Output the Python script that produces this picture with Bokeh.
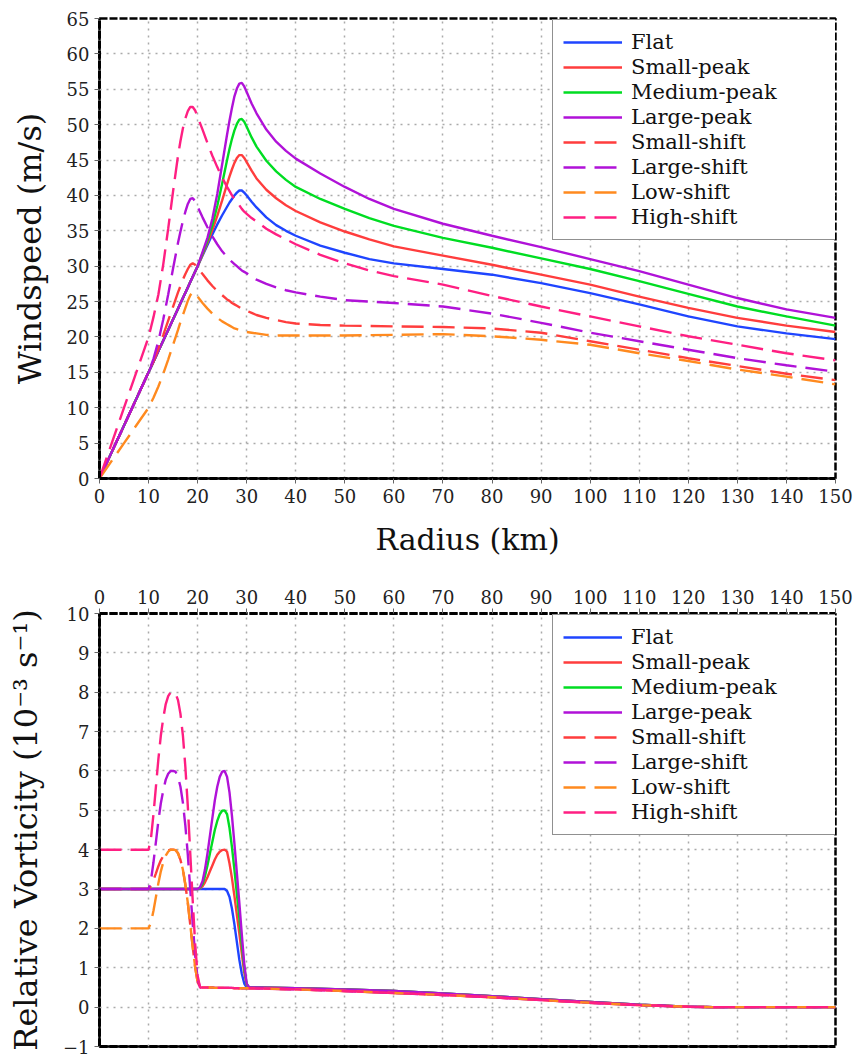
from bokeh.plotting import figure
from bokeh.models import Legend, LegendItem, FixedTicker, LinearAxis, Range1d, ColumnDataSource
from bokeh.layouts import column
from bokeh.embed import file_html
from bokeh.resources import INLINE

# ---------------- data ----------------
names = ["Flat", "Small-peak", "Medium-peak", "Large-peak",
         "Small-shift", "Large-shift", "Low-shift", "High-shift"]
colors = ["#1f45ff", "#ff3d3d", "#00dd22", "#b012d8",
          "#ff3d3d", "#b012d8", "#ff8a1f", "#ff1f82"]
dashes = ["solid", "solid", "solid", "solid", "22 9", "22 9", "22 9", "22 9"]

x_ticks = [0, 10, 20, 30, 40, 50, 60, 70, 80, 90, 100, 110, 120, 130, 140, 150]
ws_ticks = [0, 5, 10, 15, 20, 25, 30, 35, 40, 45, 50, 55, 60, 65]
vo_ticks = [-1, 0, 1, 2, 3, 4, 5, 6, 7, 8, 9, 10]

# windspeed (m/s) vs radius (km)
radius_ws = [0, 5, 10, 11, 12, 13, 14, 15, 16, 16.5, 17, 17.5, 18, 18.5, 19, 19.5, 20,
             21, 22, 23, 24, 25, 26, 26.5, 27, 27.5, 28, 28.5, 29, 29.5, 30,
             31, 32, 34, 36, 38, 40, 45, 50, 55, 60, 70, 80, 90, 100, 110, 120, 130, 140, 150]
ws_flat = [0, 7.5, 15, 16.5, 18, 19.5, 21, 22.5, 24, 24.75, 25.5, 26.25, 27, 27.75, 28.5, 29.25, 30,
           31.5, 33, 34.5, 35.9, 37.2, 38.4, 39.0, 39.5, 40.0, 40.4, 40.7, 40.7, 40.4, 40.0,
           39.1, 38.3, 36.9, 35.8, 35.0, 34.3, 32.9, 31.9, 31.0, 30.4, 29.6, 28.8, 27.6, 26.2,
           24.6, 22.9, 21.5, 20.5, 19.7]
ws_small_peak = [0, 7.5, 15, 16.5, 18, 19.5, 21, 22.5, 24, 24.75, 25.5, 26.25, 27, 27.75, 28.5, 29.25, 30,
                 31.6, 33.3, 35.1, 37.1, 39.3, 41.6, 42.7, 43.7, 44.6, 45.3, 45.7, 45.7, 45.3, 44.7,
                 43.5, 42.4, 40.8, 39.6, 38.6, 37.8, 36.2, 34.9, 33.8, 32.8, 31.5, 30.2, 28.8, 27.4,
                 25.7, 24.1, 22.7, 21.6, 20.7]
ws_medium_peak = [0, 7.5, 15, 16.5, 18, 19.5, 21, 22.5, 24, 24.75, 25.5, 26.25, 27, 27.75, 28.5, 29.25, 30,
                  31.8, 33.6, 35.8, 38.5, 41.7, 45.0, 46.6, 48.0, 49.2, 50.1, 50.7, 50.8, 50.4, 49.7,
                  48.2, 46.9, 44.9, 43.4, 42.2, 41.2, 39.5, 38.1, 36.8, 35.7, 34.0, 32.6, 31.1, 29.6,
                  27.9, 26.1, 24.3, 22.9, 21.6]
ws_large_peak = [0, 7.5, 15, 16.5, 18, 19.5, 21, 22.5, 24, 24.75, 25.5, 26.25, 27, 27.75, 28.5, 29.25, 30,
                 32.0, 34.0, 36.7, 40.2, 44.4, 48.6, 50.6, 52.4, 54.0, 55.1, 55.8, 55.9, 55.4, 54.6,
                 53.0, 51.6, 49.3, 47.6, 46.3, 45.2, 43.1, 41.2, 39.5, 38.1, 36.0, 34.3, 32.7, 31.0,
                 29.3, 27.4, 25.5, 23.9, 22.7]
ws_small_shift = [0, 7.5, 15, 16.6, 18.4, 20.3, 22.3, 24.3, 26.3, 27.2, 28.1, 28.9, 29.6, 30.2, 30.4, 30.2, 29.7,
                  28.9, 28.0, 27.2, 26.5, 25.9, 25.3, 25.1, 24.8, 24.6, 24.4, 24.2, 24.0, 23.9, 23.7,
                  23.4, 23.1, 22.7, 22.4, 22.1, 21.9, 21.7, 21.6, 21.55, 21.5, 21.4, 21.2, 20.6, 19.4,
                  18.2, 17.0, 15.9, 14.8, 13.9]
ws_large_shift = [0, 7.5, 15, 16.9, 19.4, 22.5, 26.0, 29.7, 33.3, 34.9, 36.4, 37.7, 38.8, 39.5, 39.6, 39.2, 38.4,
                  36.9, 35.5, 34.2, 33.1, 32.1, 31.3, 30.9, 30.6, 30.3, 30.0, 29.7, 29.4, 29.2, 29.0,
                  28.5, 28.1, 27.5, 27.0, 26.6, 26.3, 25.7, 25.2, 25.0, 24.8, 24.3, 23.3, 22.0, 20.6,
                  19.4, 18.2, 17.0, 16.0, 15.1]
ws_low_shift = [0, 5, 10, 11.4, 13.0, 14.8, 16.8, 18.9, 21.0, 22.1, 23.1, 24.1, 25.1, 25.9, 26.3, 26.2, 25.7,
                24.8, 24.0, 23.3, 22.7, 22.2, 21.8, 21.6, 21.4, 21.2, 21.1, 21.0, 20.9, 20.8, 20.7,
                20.6, 20.5, 20.3, 20.2, 20.2, 20.2, 20.2, 20.2, 20.25, 20.3, 20.4, 20.1, 19.6, 18.9,
                17.7, 16.6, 15.4, 14.4, 13.3]
ws_high_shift = [0, 10, 20, 22.8, 26.0, 30.3, 35.3, 40.6, 45.6, 47.7, 49.5, 50.9, 51.9, 52.5, 52.5, 52.0, 51.1,
                 49.3, 47.4, 45.6, 44.0, 42.5, 41.2, 40.6, 40.0, 39.5, 39.0, 38.6, 38.1, 37.7, 37.4,
                 36.8, 36.3, 35.3, 34.5, 33.8, 33.1, 31.6, 30.4, 29.4, 28.6, 27.4, 25.8, 24.3, 22.9,
                 21.5, 20.1, 18.9, 17.7, 16.7]

# relative vorticity (1e-3 s^-1) vs radius (km)
radius_vo = [0, 10, 10.5, 11, 11.5, 12, 12.5, 13, 13.5, 14, 14.5, 15, 15.5, 16, 16.5, 17, 17.5,
             18, 18.5, 19, 19.5, 20, 20.5, 21, 21.5, 22, 22.5, 23, 23.5, 24, 24.5, 25, 25.5,
             26, 26.5, 27, 27.5, 28, 28.5, 29, 29.5, 30, 30.5, 40, 50, 60, 70, 80, 90, 100,
             110, 120, 125, 150]
vo_flat = [3, 3, 3, 3, 3, 3, 3, 3, 3, 3, 3, 3, 3, 3, 3, 3, 3, 3, 3, 3, 3, 3, 3, 3, 3, 3, 3,
           3, 3, 3, 3, 3, 3,
           2.95, 2.8, 2.5, 2.1, 1.65, 1.2, 0.85, 0.6, 0.5, 0.5,
           0.48, 0.45, 0.41, 0.35, 0.28, 0.2, 0.13, 0.06, 0.01, 0, 0]
vo_small_peak = [3, 3, 3, 3, 3, 3, 3, 3, 3, 3, 3, 3, 3, 3, 3, 3, 3, 3, 3, 3, 3, 3,
                 3.02, 3.07, 3.17, 3.3, 3.45, 3.6, 3.75, 3.87, 3.95, 3.99, 4.0, 3.95, 3.65,
                 3.27, 2.82, 2.34, 1.87, 1.36, 0.88, 0.56, 0.5,
                 0.48, 0.45, 0.41, 0.35, 0.28, 0.2, 0.13, 0.06, 0.01, 0, 0]
vo_medium_peak = [3, 3, 3, 3, 3, 3, 3, 3, 3, 3, 3, 3, 3, 3, 3, 3, 3, 3, 3, 3, 3, 3,
                  3.03, 3.13, 3.33, 3.6, 3.9, 4.2, 4.5, 4.73, 4.9, 4.99, 5.0, 4.9, 4.55,
                  4.06, 3.49, 2.87, 2.26, 1.6, 0.99, 0.58, 0.5,
                  0.48, 0.45, 0.41, 0.35, 0.28, 0.2, 0.13, 0.06, 0.01, 0, 0]
vo_large_peak = [3, 3, 3, 3, 3, 3, 3, 3, 3, 3, 3, 3, 3, 3, 3, 3, 3, 3, 3, 3, 3, 3,
                 3.05, 3.2, 3.5, 3.9, 4.35, 4.8, 5.25, 5.6, 5.85, 5.98, 6.0, 5.85, 5.45,
                 4.85, 4.15, 3.4, 2.65, 1.85, 1.1, 0.6, 0.5,
                 0.48, 0.45, 0.41, 0.35, 0.28, 0.2, 0.13, 0.06, 0.01, 0, 0]
vo_small_shift = [3, 3, 3.08, 3.23, 3.4, 3.58, 3.73, 3.84, 3.93, 3.98, 4.0, 4.0, 3.99, 3.91,
                  3.74, 3.49, 3.11, 2.65, 2.09, 1.53, 1.01, 0.64, 0.5,
                  0.5, 0.5, 0.5, 0.5, 0.5, 0.49, 0.49, 0.49, 0.49, 0.49, 0.49, 0.49, 0.49,
                  0.48, 0.48, 0.48, 0.48, 0.48, 0.48, 0.48,
                  0.45, 0.41, 0.36, 0.31, 0.25, 0.18, 0.11, 0.05, 0.01, 0, 0]
vo_large_shift = [3, 3, 3.23, 3.68, 4.2, 4.73, 5.18, 5.51, 5.78, 5.93, 6.0, 6.0, 5.98, 5.85,
                  5.6, 5.19, 4.61, 3.87, 2.99, 2.11, 1.31, 0.72, 0.5,
                  0.5, 0.5, 0.5, 0.5, 0.5, 0.49, 0.49, 0.49, 0.49, 0.49, 0.49, 0.49, 0.49,
                  0.48, 0.48, 0.48, 0.48, 0.48, 0.48, 0.48,
                  0.45, 0.41, 0.36, 0.31, 0.25, 0.18, 0.11, 0.05, 0.01, 0, 0]
vo_low_shift = [2, 2, 2.15, 2.45, 2.8, 3.15, 3.45, 3.68, 3.85, 3.95, 4.0, 4.0, 3.99, 3.91,
                3.74, 3.49, 3.11, 2.65, 2.09, 1.53, 1.01, 0.64, 0.5,
                0.5, 0.5, 0.5, 0.5, 0.5, 0.49, 0.49, 0.49, 0.49, 0.49, 0.49, 0.49, 0.49,
                0.48, 0.48, 0.48, 0.48, 0.48, 0.48, 0.48,
                0.45, 0.41, 0.36, 0.31, 0.25, 0.18, 0.11, 0.05, 0.01, 0, 0]
vo_high_shift = [4, 4, 4.3, 4.9, 5.6, 6.3, 6.9, 7.35, 7.7, 7.9, 8.0, 8.0, 7.97, 7.8,
                 7.45, 6.9, 6.1, 5.1, 3.9, 2.7, 1.6, 0.8, 0.5,
                 0.5, 0.5, 0.5, 0.5, 0.5, 0.49, 0.49, 0.49, 0.49, 0.49, 0.49, 0.49, 0.49,
                 0.48, 0.48, 0.48, 0.48, 0.48, 0.48, 0.48,
                 0.45, 0.41, 0.36, 0.31, 0.25, 0.18, 0.11, 0.05, 0.01, 0, 0]

ws_series = [ws_flat, ws_small_peak, ws_medium_peak, ws_large_peak,
             ws_small_shift, ws_large_shift, ws_low_shift, ws_high_shift]
vo_series = [vo_flat, vo_small_peak, vo_medium_peak, vo_large_peak,
             vo_small_shift, vo_large_shift, vo_low_shift, vo_high_shift]

FONT = "DejaVu Serif"
TICK_FS = "18px"


def style(p, xaxis, yaxis):
    for ax in (xaxis, yaxis):
        ax.axis_line_color = "black"
        ax.axis_line_width = 3
        ax.axis_line_dash = "8 2"
        ax.major_tick_line_color = "#666666"
        ax.major_tick_out = 5
        ax.major_tick_in = 0
        ax.minor_tick_line_color = None
        ax.major_label_text_font = FONT
        ax.major_label_text_font_size = TICK_FS
        ax.major_label_text_color = "#222222"
        ax.axis_label_text_font = FONT
        ax.axis_label_text_font_style = "normal"
        ax.axis_label_text_color = "#111111"
    p.outline_line_color = "black"
    p.outline_line_width = 2.5
    p.outline_line_dash = "8 2"
    p.grid.grid_line_color = "#aaaaaa"
    p.grid.grid_line_width = 1.5
    p.grid.grid_line_dash = "2 5"
    p.background_fill_color = "white"
    p.border_fill_color = "white"


def add_legend(p, renderers, loc):
    items = [LegendItem(label=n, renderers=[r]) for n, r in zip(names, renderers)]
    leg = Legend(items=items, location=loc, label_text_font=FONT,
                 label_text_font_size="21px", label_text_color="#111111",
                 glyph_width=59, glyph_height=24, label_height=24, label_standoff=9,
                 spacing=1, padding=10, margin=0, label_width=216,
                 border_line_color="#222222", border_line_width=1.5,
                 background_fill_color="white", background_fill_alpha=1.0)
    p.add_layout(leg, "center")


# ---------------- top: windspeed ----------------
p1 = figure(width=854, height=565, output_backend="svg", toolbar_location=None,
            x_range=Range1d(0, 150), y_range=Range1d(0, 65),
            min_border_left=99, min_border_right=19, min_border_top=18, min_border_bottom=87)
r1 = []
for vals, c, d in zip(ws_series, colors, dashes):
    src = ColumnDataSource(dict(r=radius_ws, v=vals))
    r1.append(p1.line("r", "v", source=src, line_color=c, line_width=2.4, line_dash=d))
p1.xaxis.ticker = FixedTicker(ticks=x_ticks)
p1.yaxis.ticker = FixedTicker(ticks=ws_ticks)
p1.xaxis.axis_label = "Radius (km)"
p1.yaxis.axis_label = "Windspeed (m/s)"
style(p1, p1.xaxis[0], p1.yaxis[0])
p1.xaxis.axis_label_text_font_size = "30px"
p1.yaxis.axis_label_text_font_size = "32px"
p1.xaxis.axis_label_standoff = 16
p1.yaxis.axis_label_standoff = 15
add_legend(p1, r1, (453, 238))

# ---------------- bottom: vorticity ----------------
p2 = figure(width=854, height=491, output_backend="svg", toolbar_location=None,
            x_range=Range1d(0, 150), y_range=Range1d(-1, 10), x_axis_location="above",
            min_border_left=99, min_border_right=19, min_border_top=48, min_border_bottom=10)
r2 = []
for vals, c, d in zip(vo_series, colors, dashes):
    src = ColumnDataSource(dict(r=radius_vo, v=vals))
    r2.append(p2.line("r", "v", source=src, line_color=c, line_width=2.4, line_dash=d))
p2.xaxis.ticker = FixedTicker(ticks=x_ticks)
p2.yaxis.ticker = FixedTicker(ticks=vo_ticks)
p2.yaxis.axis_label = "Relative Vorticity (10\u207b\u00b3 s\u207b\u00b9)"
style(p2, p2.xaxis[0], p2.yaxis[0])
p2.yaxis.axis_label_text_font_size = "32px"
p2.yaxis.axis_label_standoff = 15
bottom_axis = LinearAxis(ticker=FixedTicker(ticks=[]), major_label_text_font_size="0px",
                         axis_line_color="black", axis_line_width=3, axis_line_dash="8 2",
                         major_tick_line_color=None, minor_tick_line_color=None)
p2.add_layout(bottom_axis, "below")
add_legend(p2, r2, (453, 211))

layout = column(p1, p2, spacing=0)
open("out.html", "w").write(file_html(layout, INLINE))
